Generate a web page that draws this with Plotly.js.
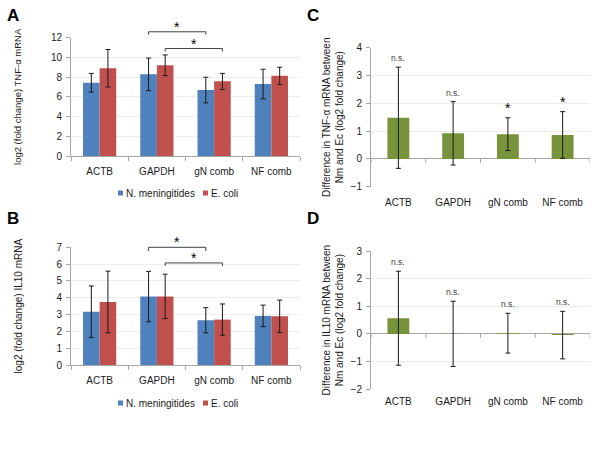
<!DOCTYPE html>
<html><head><meta charset="utf-8">
<script src="https://cdn.plot.ly/plotly-3.0.1.min.js"></script>
<style>body{margin:0;background:#fff}#chart{width:600px;height:450px}</style>
</head><body><div id="chart"></div>
<script>
// ---------------- data ----------------
const categories = ['ACTB', 'GAPDH', 'gN comb', 'NF comb'];
const seriesNames = ['N. meningitides', 'E. coli'];

const tnfNm = [7.43, 8.28, 6.69, 7.30];
const tnfNmErr = [0.95, 1.65, 1.30, 1.50];
const tnfEc = [8.90, 9.20, 7.57, 8.13];
const tnfEcErr = [1.90, 1.05, 0.81, 0.87];

const il10Nm = [3.17, 4.07, 2.66, 2.92];
const il10NmErr = [1.53, 1.50, 0.75, 0.64];
const il10Ec = [3.75, 4.08, 2.70, 2.90];
const il10EcErr = [1.83, 1.32, 0.93, 0.96];

const tnfDiff = [1.48, 0.92, 0.89, 0.86];
const tnfDiffErr = [1.82, 1.14, 0.59, 0.84];
const tnfDiffSig = ['n.s.', 'n.s.', '*', '*'];

const il10Diff = [0.57, 0.005, 0.03, -0.04];
const il10DiffErr = [1.70, 1.18, 0.72, 0.86];
const il10DiffSig = ['n.s.', 'n.s.', 'n.s.', 'n.s.'];

// significance brackets (series index 0 = Nm, 1 = Ec)
const tnfBrackets = [
  {from: 'GAPDH', to: 'gN comb', series: 0, y: 12.6, drop: 0.3, label: '*'},
  {from: 'GAPDH', to: 'gN comb', series: 1, y: 10.9, drop: 0.3, label: '*'}
];
const il10Brackets = [
  {from: 'GAPDH', to: 'gN comb', series: 0, y: 7.0, drop: 0.22, label: '*'},
  {from: 'GAPDH', to: 'gN comb', series: 1, y: 6.07, drop: 0.18, label: '*'}
];

// ---------------- style ----------------
const BLUE = '#4F81BD', RED = '#C0504D', GREEN = '#77933C';
const AXIS = '#A6A6A6', GRID = '#EDEDED', TXT = '#1a1a1a';
const FONT = 'Liberation Sans, Arial, sans-serif';
const BARGAP = 0.42;
const barOff = (1 - BARGAP) / 4;

const W = 600, H = 450;
const fx = p => p / W, fy = p => 1 - p / H;

const domA_x = [fx(71), fx(300)];
const domA_y = [fy(156), fy(37.7)];
const domB_y = [fy(365), fy(247.3)];
const domC_x = [fx(371), fx(590)];
const domC_y = [fy(186.7), fy(47.7)];
const domD_y = [fy(389.3), fy(251)];

const rangeA = [0, 12], rangeB = [0, 7], rangeC = [-1, 4], rangeD = [-2, 3];
const xr = [-0.5, categories.length - 0.5];

function errBar(arr) {
  return {type: 'data', array: arr, visible: true, color: TXT, thickness: 1, width: 2.5};
}

const traces = [
  {type: 'bar', name: seriesNames[0], x: categories, y: tnfNm, error_y: errBar(tnfNmErr),
   marker: {color: BLUE}, xaxis: 'x', yaxis: 'y', showlegend: false},
  {type: 'bar', name: seriesNames[1], x: categories, y: tnfEc, error_y: errBar(tnfEcErr),
   marker: {color: RED}, xaxis: 'x', yaxis: 'y', showlegend: false},
  {type: 'bar', name: seriesNames[0], x: categories, y: il10Nm, error_y: errBar(il10NmErr),
   marker: {color: BLUE}, xaxis: 'x2', yaxis: 'y2', showlegend: false},
  {type: 'bar', name: seriesNames[1], x: categories, y: il10Ec, error_y: errBar(il10EcErr),
   marker: {color: RED}, xaxis: 'x2', yaxis: 'y2', showlegend: false},
  {type: 'bar', name: 'TNF-α difference', x: categories, y: tnfDiff, error_y: errBar(tnfDiffErr),
   marker: {color: GREEN}, width: 0.4, xaxis: 'x3', yaxis: 'y3', showlegend: false},
  {type: 'bar', name: 'IL10 difference', x: categories, y: il10Diff, error_y: errBar(il10DiffErr),
   marker: {color: GREEN}, width: 0.4, xaxis: 'x4', yaxis: 'y4', showlegend: false}
];

function xAxis(dom, anchor, showline, standoff) {
  return {domain: dom, anchor: anchor, type: 'category', range: xr, showline: showline,
    linecolor: AXIS, linewidth: 1, ticks: showline ? 'outside' : '', tickson: 'boundaries',
    ticklen: 4, tickcolor: AXIS, showgrid: false, zeroline: false, fixedrange: true,
    tickfont: {size: 10, color: TXT, family: FONT}, ticklabelstandoff: standoff};
}
function yAxis(dom, anchor, range, dtick, title, tsize, standoff, zl) {
  return {domain: dom, anchor: anchor, range: range, dtick: dtick, showline: true,
    linecolor: AXIS, linewidth: 1, ticks: 'outside', ticklen: 4, tickcolor: AXIS,
    showgrid: true, gridcolor: GRID, gridwidth: 1, zeroline: zl, zerolinecolor: AXIS,
    zerolinewidth: 1, fixedrange: true, tickfont: {size: 10, color: TXT, family: FONT},
    ticklabelstandoff: 2,
    title: {text: title, font: {size: tsize, color: TXT, family: FONT}, standoff: standoff}};
}

const layout = {
  width: W, height: H, margin: {l: 0, r: 0, t: 0, b: 0},
  paper_bgcolor: '#fff', plot_bgcolor: '#fff',
  font: {family: FONT, color: TXT},
  barmode: 'group', bargap: BARGAP, bargroupgap: 0,
  showlegend: false,
  xaxis: xAxis(domA_x, 'y', true, 6),
  yaxis: yAxis(domA_y, 'x', rangeA, 2, 'log2 (fold change) TNF-α mRNA', 9.5, 27, false),
  xaxis2: xAxis(domA_x, 'y2', true, 6),
  yaxis2: yAxis(domB_y, 'x2', rangeB, 1, 'log2 (fold change) IL10 mRNA', 10, 31, false),
  xaxis3: xAxis(domC_x, 'y3', false, 8),
  yaxis3: yAxis(domC_y, 'x3', rangeC, 1, 'Difference in TNF-α mRNA between<br>Nm and Ec (log2 fold change)', 10, 5, true),
  xaxis4: xAxis(domC_x, 'y4', false, 5),
  yaxis4: yAxis(domD_y, 'x4', rangeD, 1, 'Difference in IL10 mRNA between<br>Nm and Ec (log2 fold change)', 10, 5, true),
  shapes: [], annotations: []
};

// paper-coordinate helpers derived from axis domains and ranges
function toPaperX(dom, v) { return dom[0] + (v - xr[0]) / (xr[1] - xr[0]) * (dom[1] - dom[0]); }
function toPaperY(dom, rng, v) { return dom[0] + (v - rng[0]) / (rng[1] - rng[0]) * (dom[1] - dom[0]); }

function addBrackets(list, ydom, rng) {
  list.forEach(b => {
    const off = b.series === 0 ? -barOff : barOff;
    const x0 = toPaperX(domA_x, categories.indexOf(b.from) + off);
    const x1 = toPaperX(domA_x, categories.indexOf(b.to) + off);
    const yTop = toPaperY(ydom, rng, b.y);
    const yEnd = toPaperY(ydom, rng, b.y - b.drop);
    layout.shapes.push({type: 'path', xref: 'paper', yref: 'paper',
      path: `M${x0},${yEnd} L${x0},${yTop} L${x1},${yTop} L${x1},${yEnd}`,
      line: {color: '#404040', width: 1}});
    layout.annotations.push({xref: 'paper', yref: 'paper', x: (x0 + x1) / 2, y: yTop,
      text: b.label, showarrow: false, xanchor: 'center', yanchor: 'bottom', yshift: -5,
      font: {size: 14, color: '#000', family: FONT}});
  });
}
addBrackets(tnfBrackets, domA_y, rangeA);
addBrackets(il10Brackets, domB_y, rangeB);

// significance labels above difference bars
function addSig(vals, errs, sig, xa, ya) {
  sig.forEach((s, i) => {
    const star = s === '*';
    layout.annotations.push({xref: xa, yref: ya, x: i, y: vals[i] + errs[i], text: s,
      showarrow: false, xanchor: 'center', yanchor: 'bottom', yshift: star ? 0 : 2,
      font: {size: star ? 14 : 8.5, color: star ? '#000' : '#404040', family: FONT}});
  });
}
addSig(tnfDiff, tnfDiffErr, tnfDiffSig, 'x3', 'y3');
addSig(il10Diff, il10DiffErr, il10DiffSig, 'x4', 'y4');

// category-boundary tick marks on the zero line of C and D
[['x3', 'y3'], ['x4', 'y4']].forEach(([xa, ya]) => {
  for (let i = 0; i <= categories.length; i++) {
    layout.shapes.push({type: 'line', xref: xa, yref: ya, ysizemode: 'pixel', yanchor: 0,
      x0: i - 0.5, x1: i - 0.5, y0: 0, y1: -4, line: {color: AXIS, width: 1}});
  }
});

// manual legends under A and B
function addLegend(ypx) {
  const items = [{name: seriesNames[0], color: BLUE, x: 118}, {name: seriesNames[1], color: RED, x: 203}];
  items.forEach(it => {
    layout.shapes.push({type: 'rect', xref: 'paper', yref: 'paper',
      x0: fx(it.x), x1: fx(it.x + 5), y0: fy(ypx + 2.5), y1: fy(ypx - 2.5),
      fillcolor: it.color, line: {width: 0}});
    layout.annotations.push({xref: 'paper', yref: 'paper', x: fx(it.x + 6), y: fy(ypx),
      text: it.name, showarrow: false, xanchor: 'left', yanchor: 'middle',
      font: {size: 10, color: TXT, family: FONT}});
  });
}
addLegend(193);
addLegend(403);

// panel letters
[['A', 6, 5], ['B', 6, 208], ['C', 306, 5], ['D', 306, 208]].forEach(([t, x, y]) => {
  layout.annotations.push({xref: 'paper', yref: 'paper', x: fx(x), y: fy(y), text: '<b>' + t + '</b>',
    showarrow: false, xanchor: 'left', yanchor: 'top', borderpad: 0,
    font: {size: 17, color: '#000', family: FONT}});
});

Plotly.newPlot('chart', traces, layout, {displayModeBar: false, staticPlot: true});
</script></body></html>
